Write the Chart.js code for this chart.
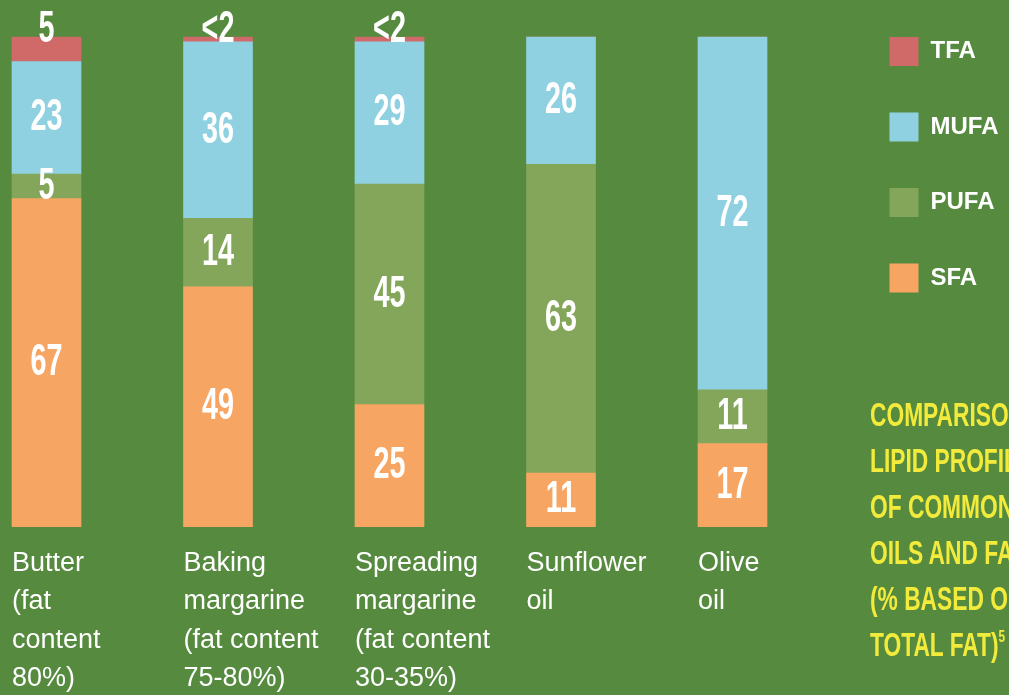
<!DOCTYPE html>
<html>
<head>
<meta charset="utf-8">
<script src="https://cdn.jsdelivr.net/npm/chart.js@4/dist/chart.umd.min.js"></script>
<style>
  html, body { margin: 0; padding: 0; background: #558a3f; overflow: hidden; }
  #wrap { position: relative; width: 1009px; height: 695px; }
  #titulo {
    position: absolute; left: 870px; top: 392px;
    font-family: 'Liberation Sans', Arial, sans-serif;
    font-weight: bold; font-size: 33px; line-height: 46px;
    color: #f3eb3b; white-space: nowrap;
    transform: scaleX(0.69); transform-origin: 0 0;
  }
  #titulo sup { font-size: 17px; line-height: 0; vertical-align: 14px; }
</style>
</head>
<body>
<div id="wrap">
  <canvas id="grafico"></canvas>
  <div id="titulo">COMPARISON OF<br>LIPID PROFILES<br>OF COMMON<br>OILS AND FATS<br>(% BASED ON<br>TOTAL FAT)<sup>5</sup></div>
</div>
<script>
const categorias = [
  ["Butter", "(fat", "content", "80%)"],
  ["Baking", "margarine", "(fat content", "75-80%)"],
  ["Spreading", "margarine", "(fat content", "30-35%)"],
  ["Sunflower", "oil"],
  ["Olive", "oil"]
];
const sfa = [67, 49, 25, 11, 17];
const pufa = [5, 14, 45, 63, 11];
const mufa = [23, 36, 29, 26, 72];
const tfa = [5, 1, 1, 0, 0];
const tfaTexto = ["5", "<2", "<2", "", ""];

const fuente = "'Liberation Sans', Arial, sans-serif";
const fuenteLeyenda = { family: fuente, size: 24, weight: "bold" };

// separacion entre barras y centro de la primera, en pixeles
const paso = 171.5;
const primerCentro = 46.5;

function puntos(valores) {
  return valores.map((v, i) => ({ x: i, y: v }));
}

// ancho natural de la leyenda, para que empiece en x = 843
const medidor = document.createElement("canvas").getContext("2d");
medidor.font = "bold 24px " + fuente;
const textoMax = Math.max(...["TFA", "MUFA", "PUFA", "SFA"].map(t => medidor.measureText(t).width));
const anchoLeyenda = 46.5 + 29 + 12 + textoMax + 10;
const margenDerecho = Math.max(0, 166 - anchoLeyenda);

// rango del eje x segun el area real del grafico
const ajusteX = {
  id: "ajusteX",
  afterLayout(chart) {
    const s = chart.scales.x;
    s.min = (s.left - primerCentro) / paso;
    s.max = s.min + (s.right - s.left) / paso;
    s.configure();
  }
};

// numeros blancos dentro de cada tramo (TFA va encima de la barra)
const etiquetas = {
  id: "etiquetas",
  afterDatasetsDraw(chart) {
    const ctx = chart.ctx;
    chart.data.datasets.forEach((ds, di) => {
      const meta = chart.getDatasetMeta(di);
      meta.data.forEach((barra, i) => {
        const texto = ds.textos[i];
        if (!texto) return;
        const y = ds.label === "TFA" ? barra.y - 7 : (barra.y + barra.base) / 2;
        ctx.save();
        ctx.fillStyle = "#ffffff";
        ctx.font = "bold 45px " + fuente;
        ctx.textAlign = "center";
        ctx.textBaseline = "middle";
        ctx.translate(barra.x, y);
        ctx.scale(0.64, 1);
        ctx.fillText(texto, 0, 0);
        ctx.restore();
      });
    });
  }
};

const ctx = document.getElementById("grafico").getContext("2d");

new Chart(ctx, {
  type: "bar",
  data: {
    datasets: [
      { label: "SFA", data: puntos(sfa), textos: sfa.map(String), backgroundColor: "#f7a563" },
      { label: "PUFA", data: puntos(pufa), textos: pufa.map(String), backgroundColor: "#84a65b" },
      { label: "MUFA", data: puntos(mufa), textos: mufa.map(String), backgroundColor: "#8fd1e1" },
      { label: "TFA", data: puntos(tfa), textos: tfaTexto, backgroundColor: "#d06a69" }
    ]
  },
  options: {
    responsive: true,
    maintainAspectRatio: false,
    animation: false,
    layout: { padding: { top: -9.5, right: margenDerecho, bottom: 0, left: 0 } },
    datasets: {
      bar: { barThickness: 69, borderWidth: 0 }
    },
    plugins: {
      tooltip: { enabled: false },
      legend: {
        position: "right",
        align: "start",
        reverse: true,
        maxWidth: 166,
        labels: {
          boxWidth: 29,
          boxHeight: 29,
          padding: 46.5,
          color: "#ffffff",
          font: fuenteLeyenda
        }
      }
    },
    scales: {
      x: {
        type: "linear",
        stacked: true,
        offset: false,
        min: -primerCentro / paso,
        max: -primerCentro / paso + 843 / paso,
        grid: { display: false, drawTicks: false, offset: false },
        border: { display: false },
        afterBuildTicks: scale => {
          scale.ticks = categorias.map((c, i) => ({ value: i }));
        },
        afterFit: scale => {
          scale.height = 168;
        },
        ticks: {
          autoSkip: false,
          maxRotation: 0,
          minRotation: 0,
          align: "start",
          labelOffset: -34.5,
          padding: 17,
          color: "#ffffff",
          font: { family: fuente, size: 27, lineHeight: "38.5px" },
          callback: value => categorias[value]
        }
      },
      y: {
        display: false,
        stacked: true,
        min: 0,
        max: 527 / 4.9
      }
    }
  },
  plugins: [ajusteX, etiquetas]
});
</script>
</body>
</html>
